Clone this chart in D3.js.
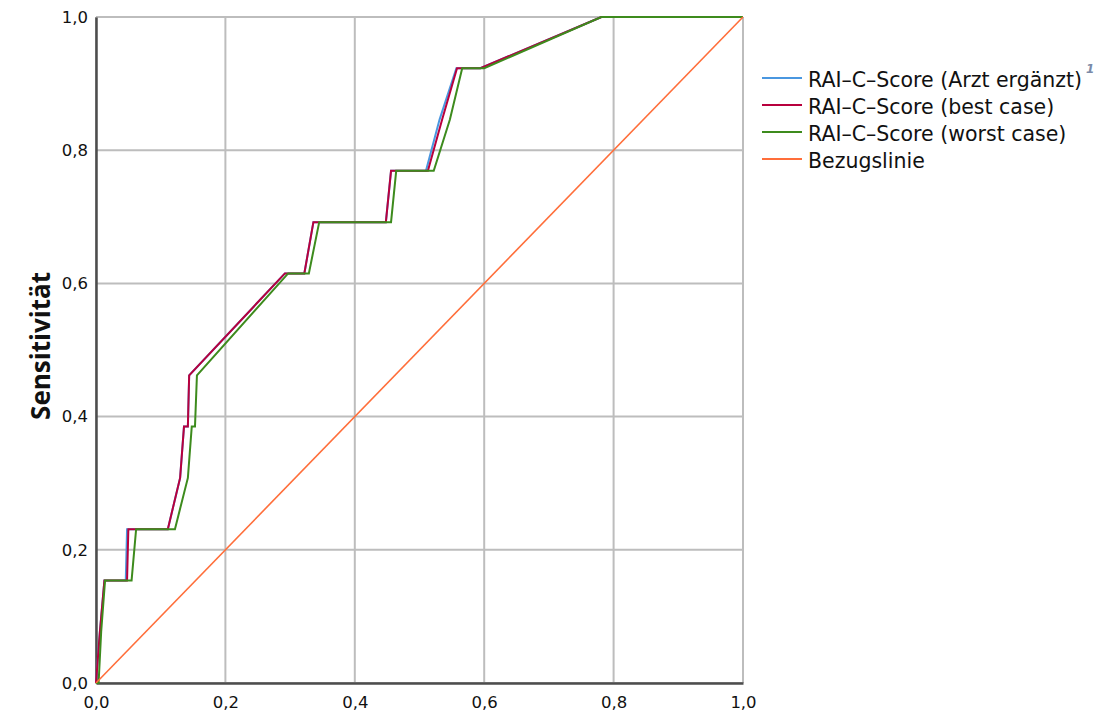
<!DOCTYPE html>
<html>
<head>
<meta charset="utf-8">
<script src="https://cdn.jsdelivr.net/npm/d3@7"></script>
<style>
  body { margin: 0; background: #fff; }
  svg { display: block; }
</style>
</head>
<body>
<svg id="chart" width="1107" height="713"></svg>
<script>
// ROC data (1 - Spezifität, Sensitivität)
const fprArzt = [0, 0.006, 0.013, 0.046, 0.048, 0.111, 0.130, 0.136, 0.142, 0.144, 0.292, 0.322, 0.336, 0.448, 0.456, 0.510, 0.531, 0.557, 0.594, 0.781, 1];
const tprArzt = [0, 0.077, 0.154, 0.154, 0.231, 0.231, 0.308, 0.385, 0.385, 0.462, 0.615, 0.615, 0.692, 0.692, 0.769, 0.769, 0.846, 0.923, 0.923, 1, 1];

const fprBest = [0, 0.006, 0.013, 0.048, 0.050, 0.111, 0.130, 0.136, 0.142, 0.144, 0.292, 0.322, 0.336, 0.448, 0.456, 0.513, 0.535, 0.558, 0.594, 0.781, 1];
const tprBest = [0, 0.077, 0.154, 0.154, 0.231, 0.231, 0.308, 0.385, 0.385, 0.462, 0.615, 0.615, 0.692, 0.692, 0.769, 0.769, 0.846, 0.923, 0.923, 1, 1];

const fprWorst = [0, 0.004, 0.008, 0.014, 0.055, 0.062, 0.122, 0.142, 0.148, 0.153, 0.156, 0.297, 0.329, 0.345, 0.456, 0.464, 0.522, 0.547, 0.566, 0.600, 0.781, 1];
const tprWorst = [0, 0, 0.077, 0.154, 0.154, 0.231, 0.231, 0.308, 0.385, 0.385, 0.462, 0.615, 0.615, 0.692, 0.692, 0.769, 0.769, 0.846, 0.923, 0.923, 1, 1];

const fprRef = [0, 1];
const tprRef = [0, 1];

const seriesNames = ["RAI\u2013C\u2013Score (Arzt ergänzt)", "RAI\u2013C\u2013Score (best case)", "RAI\u2013C\u2013Score (worst case)", "Bezugslinie"];
const seriesColors = ["#4a97e0", "#b8003d", "#3d8b1d", "#ff6e3a"];
const tickValues = [0, 0.2, 0.4, 0.6, 0.8, 1.0];
const yTitle = "Sensitivität";

const svg = d3.select("#chart");
const plotLeft = 96, plotRight = 743, plotTop = 17, plotBottom = 683;

const x = d3.scaleLinear().domain([0, 1]).range([plotLeft, plotRight]);
const y = d3.scaleLinear().domain([0, 1]).range([plotBottom, plotTop]);
const fmt = d => d3.format(".1f")(d).replace(".", ",");

// gridlines
svg.append("g").selectAll("line")
  .data(tickValues)
  .enter().append("line")
  .attr("x1", d => x(d)).attr("x2", d => x(d))
  .attr("y1", plotTop).attr("y2", plotBottom)
  .attr("stroke", "#bdbdbd").attr("stroke-width", 2);
svg.append("g").selectAll("line")
  .data(tickValues)
  .enter().append("line")
  .attr("x1", plotLeft).attr("x2", plotRight)
  .attr("y1", d => y(d)).attr("y2", d => y(d))
  .attr("stroke", "#bdbdbd").attr("stroke-width", 2);

// axes
const xAxis = svg.append("g")
  .attr("transform", "translate(0," + plotBottom + ")")
  .call(d3.axisBottom(x).tickValues(tickValues).tickFormat(fmt).tickSize(0).tickPadding(13));
const yAxis = svg.append("g")
  .attr("transform", "translate(" + plotLeft + ",0)")
  .call(d3.axisLeft(y).tickValues(tickValues).tickFormat(fmt).tickSize(0).tickPadding(8));
[xAxis, yAxis].forEach(a => {
  a.select(".domain").attr("stroke", "#4d4d4d").attr("stroke-width", 2.5);
  a.selectAll("text")
    .attr("font-family", "DejaVu Sans, sans-serif")
    .attr("font-size", "16.5px")
    .attr("fill", "#111");
});

svg.append("text")
  .attr("transform", "translate(50,346) rotate(-90)")
  .attr("text-anchor", "middle")
  .attr("font-family", "Open Sans, sans-serif")
  .attr("font-weight", "bold")
  .attr("font-size", "26px")
  .attr("fill", "#111")
  .text(yTitle);

// curves
const line = d3.line().x(d => x(d[0])).y(d => y(d[1]));
const curves = [
  { xs: fprArzt, ys: tprArzt, color: seriesColors[0], w: 2 },
  { xs: fprBest, ys: tprBest, color: seriesColors[1], w: 2 },
  { xs: fprWorst, ys: tprWorst, color: seriesColors[2], w: 2 },
  { xs: fprRef, ys: tprRef, color: seriesColors[3], w: 1.6 }
];
svg.append("g").selectAll("path")
  .data(curves)
  .enter().append("path")
  .attr("d", c => line(c.xs.map((v, i) => [v, c.ys[i]])))
  .attr("fill", "none")
  .attr("stroke", c => c.color)
  .attr("stroke-width", c => c.w)
  .attr("stroke-linejoin", "miter");

// legend
const legend = svg.append("g").attr("transform", "translate(762,78)");
const items = legend.selectAll("g")
  .data(seriesNames)
  .enter().append("g")
  .attr("transform", (d, i) => "translate(0," + (i * 27) + ")");
items.append("line")
  .attr("x1", 0).attr("x2", 40)
  .attr("stroke", (d, i) => seriesColors[i])
  .attr("stroke-width", 2);
items.append("text")
  .attr("x", 46).attr("y", 9)
  .attr("font-family", "DejaVu Sans, sans-serif")
  .attr("font-size", "20.5px")
  .attr("fill", "#111")
  .text(d => d);
legend.append("text")
  .attr("x", 324).attr("y", -5)
  .attr("font-family", "DejaVu Sans, sans-serif")
  .attr("font-size", "12px")
  .attr("font-style", "italic")
  .attr("font-weight", "bold")
  .attr("fill", "#7a8aa8")
  .text("1");
</script>
</body>
</html>
